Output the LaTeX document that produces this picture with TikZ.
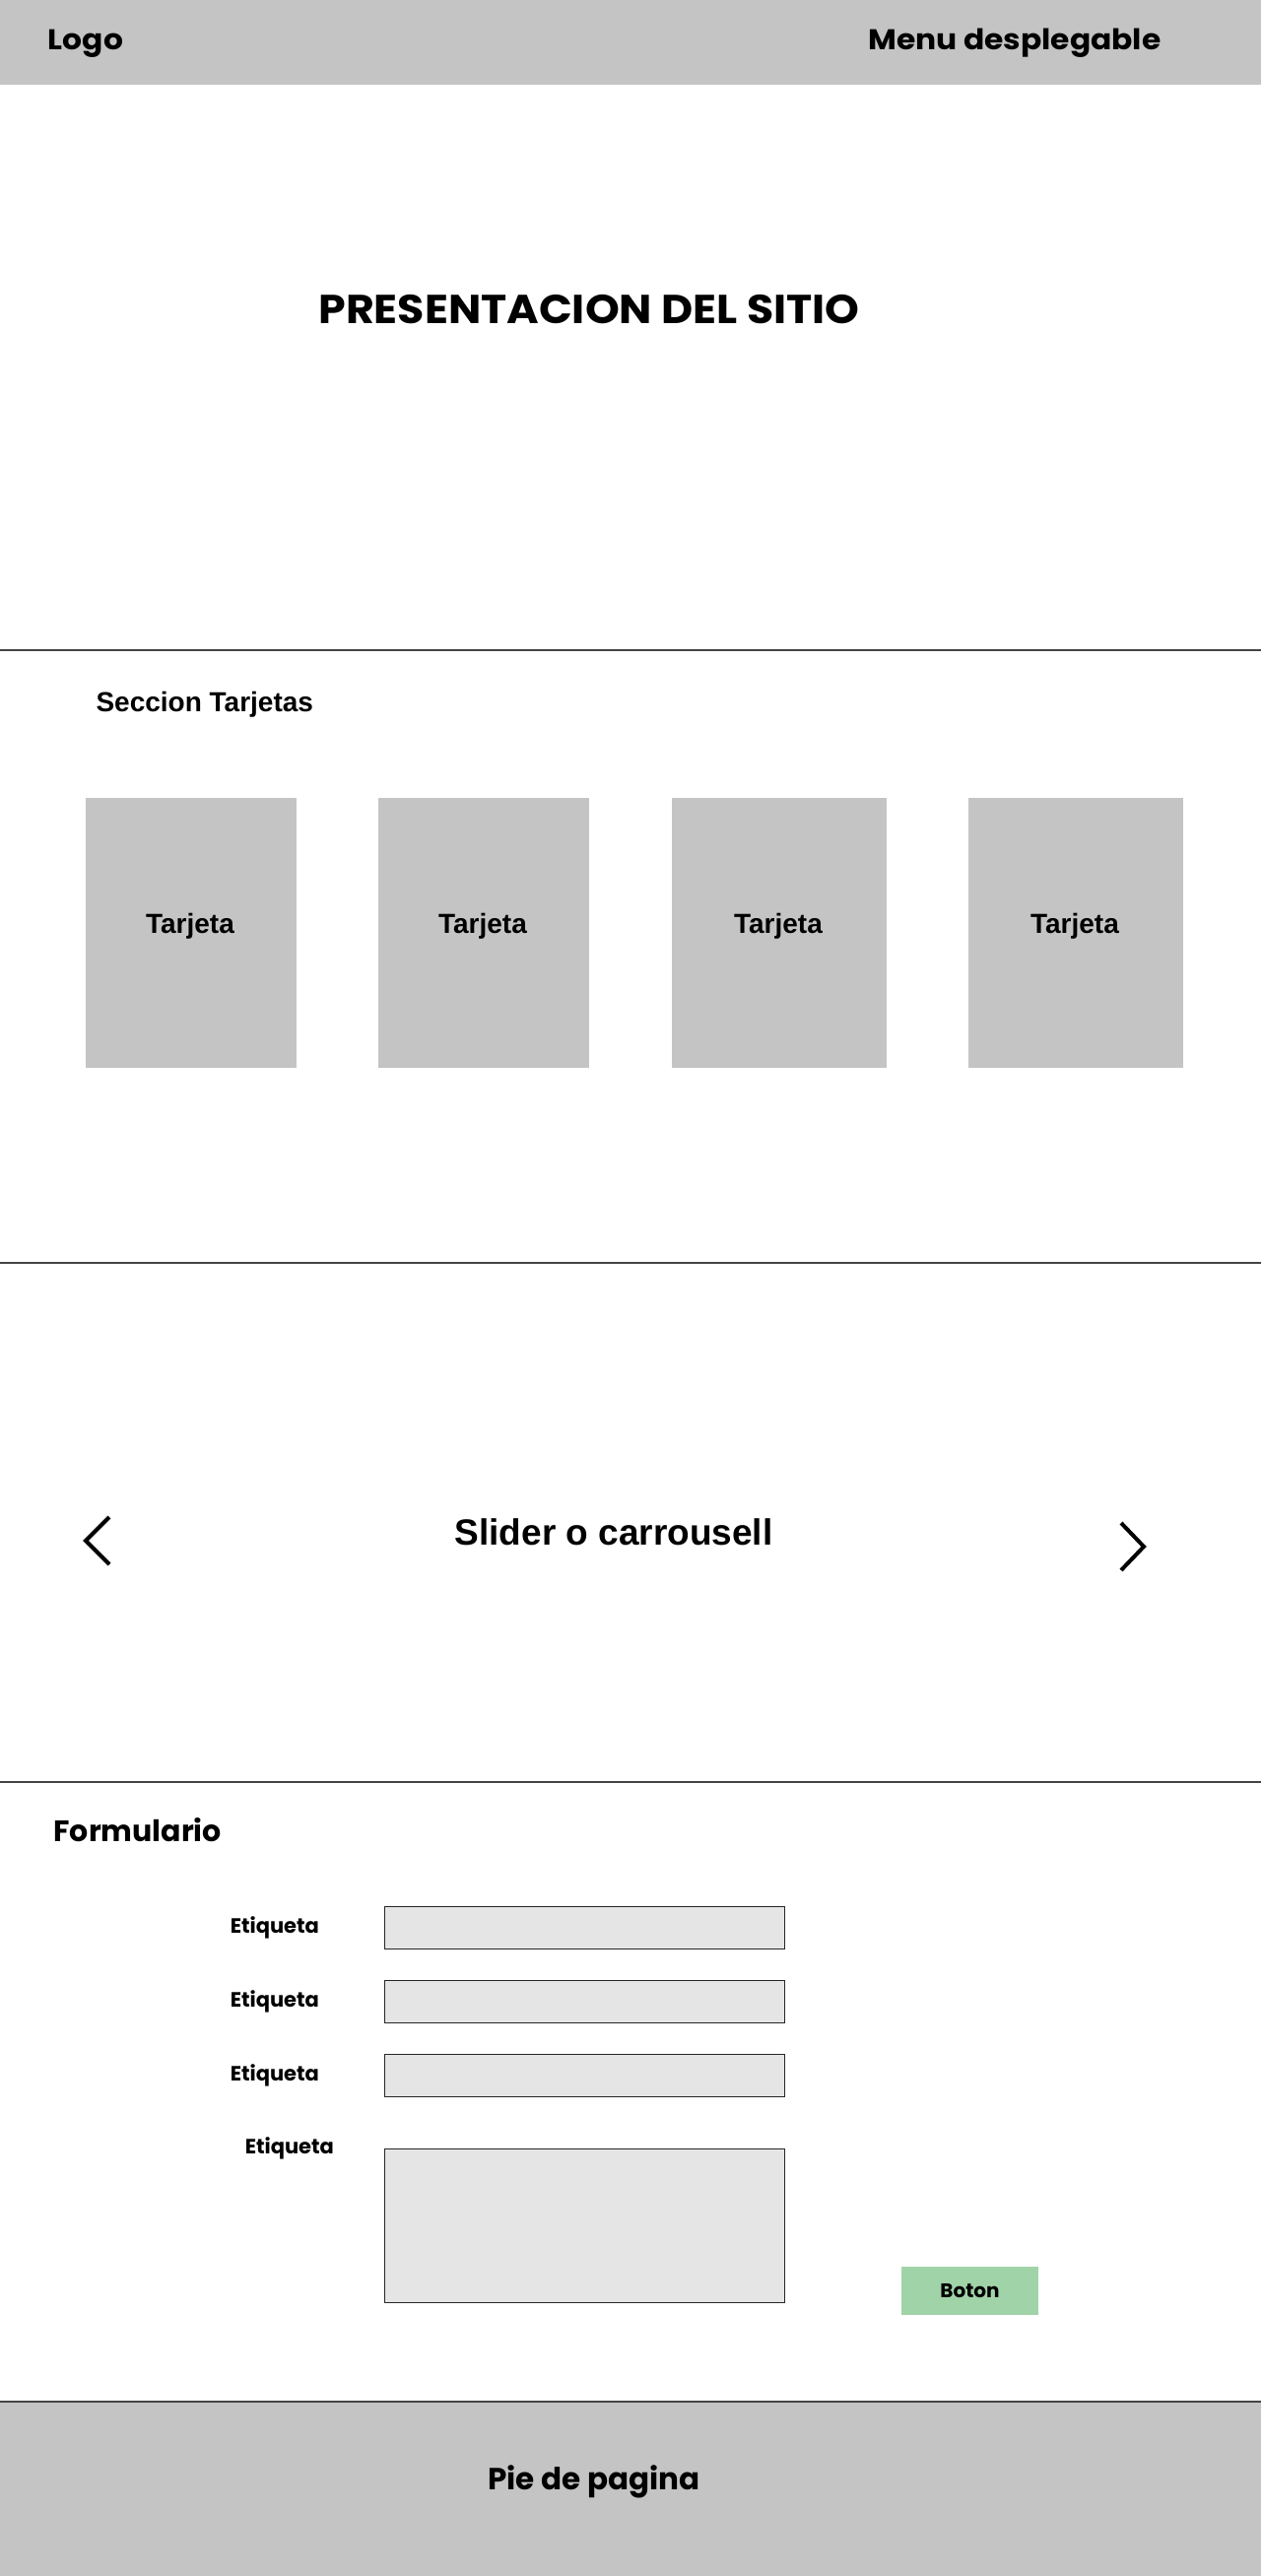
\documentclass[tikz,border=0pt]{standalone}
\usepackage{fontspec}
\usepackage{tikz}
\usetikzlibrary{positioning}
\newfontfamily\montfont{Poppins}
\newfontfamily\montwide{Poppins}[FakeStretch=1.08]
\newfontfamily\robfont{Liberation Sans}
\definecolor{bandGray}{HTML}{C4C4C4}
\definecolor{fieldGray}{HTML}{E5E5E5}
\definecolor{botonGreen}{HTML}{A1D3A8}
\definecolor{ruleGray}{HTML}{444444}
\tikzset{
		bandStyle/.style  = {fill=bandGray},
		ruleStyle/.style  = {draw=ruleGray, line width=1.5pt},
		cardStyle/.style  = {fill=bandGray, minimum height=274pt, inner sep=0pt},
		cardText/.style   = {anchor=base, font=\robfont\bfseries\fontsize{28}{33}\selectfont},
		fieldStyle/.style = {draw=black!85, line width=1pt, fill=fieldGray, minimum width=406pt, minimum height=43pt, inner sep=0pt},
		labelStyle/.style = {font=\montfont\bfseries\fontsize{21}{25}\selectfont},
		botonStyle/.style = {fill=botonGreen, minimum width=139pt, minimum height=49pt, font=\montfont\bfseries\fontsize{20}{24}\selectfont},
		chevron/.style    = {line width=4pt},
		node distance=62pt
}

\begin{document}
\begin{tikzpicture}[x=1pt, y=-1pt]
  \useasboundingbox (0,0) rectangle (1280,2615);

  % Draw header and footer bands
  \fill[bandStyle] (0,0) rectangle (1280,86);
  \fill[bandStyle] (0,2439) rectangle (1280,2615);
  \node [anchor=base, font=\montwide\bfseries\fontsize{29}{33}\selectfont] (logo) at (87,50) {Logo};
  \node [anchor=base, font=\montwide\bfseries\fontsize{29}{33}\selectfont] (menu) at (1030,50) {Menu desplegable};

  % Draw rules between sections
  \foreach \y in {660,1282,1809,2438}
    \draw[ruleStyle] (0,\y) -- (1280,\y);

  % Presentation
  \node [anchor=base, font=\montwide\bfseries\fontsize{41}{46}\selectfont] (presentacion) at (598,328) {PRESENTACION DEL SITIO};

  % Draw cards
  \node [anchor=base west, font=\robfont\bfseries\fontsize{28}{32}\selectfont] (seccion) at (94,722) {Seccion Tarjetas};
  \foreach \x/\w [count=\i] in {194/214,491/214,791/218,1092/218}
    {\node [cardStyle, minimum width=\w pt] (card\i) at (\x,947) {};
     \node [cardText] (tarjeta\i) at (\x-1,947) {Tarjeta};}

  % Slider with its arrows
  \node [anchor=base, font=\robfont\bfseries\fontsize{37}{42}\selectfont] (slider) at (623,1568) {Slider o carrousell};
  \draw[chevron] (111,1540) -- (87,1564) -- (111,1588);
  \draw[chevron] (1138,1546) -- (1161,1570) -- (1138,1594);

  % Draw form fields and labels
  \node [anchor=base west, font=\montfont\bfseries\fontsize{30}{34}\selectfont] (formulario) at (51,1869) {Formulario};
  \foreach \y [count=\i] in {1956.5,2032,2107}
    {\node [fieldStyle] (campo\i) at (593,\y) {};
     \node [labelStyle, left=of campo\i] (etiqueta\i) {Etiqueta};}
  \node [fieldStyle, minimum height=156pt] (campo4) at (593,2259) {};
  \node [labelStyle, left=47pt of campo4.north west] (etiqueta4) {Etiqueta};
  \node [botonStyle] (boton) at (984.5,2325.5) {Boton};

  % Footer text
  \node [anchor=base, font=\montfont\bfseries\fontsize{31}{36}\selectfont] (pie) at (603,2527) {Pie de pagina};
\end{tikzpicture}
\end{document}
